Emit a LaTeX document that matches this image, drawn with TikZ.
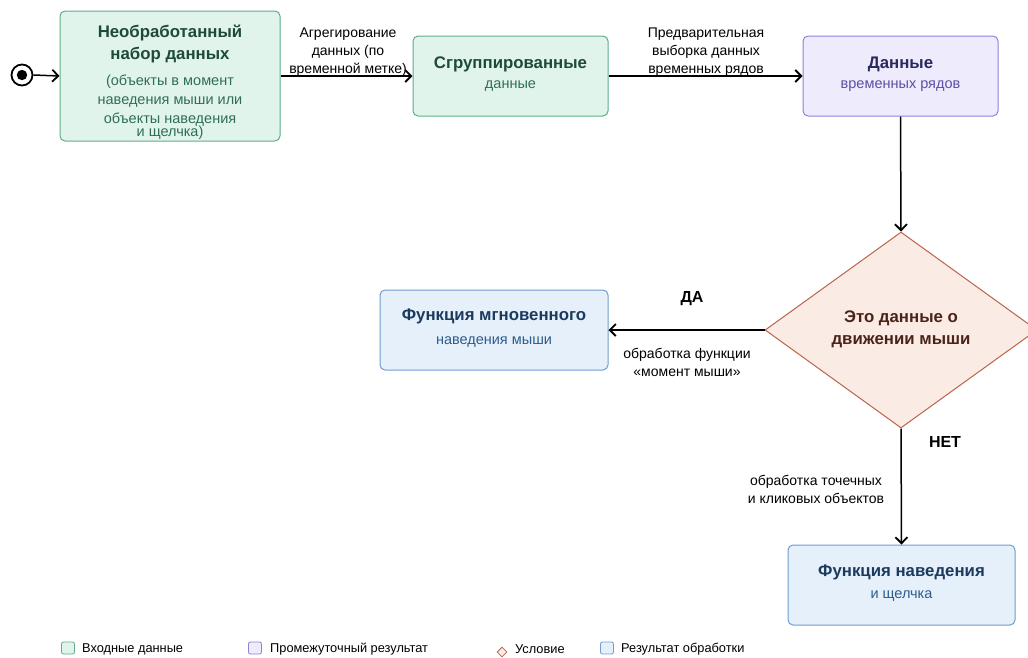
\documentclass[tikz,border=0pt]{standalone}
\usepackage{fontspec}
\setmainfont{Liberation Sans}
\usetikzlibrary{shapes.geometric,arrows.meta}
\definecolor{gfill}{HTML}{E1F4EC}
\definecolor{gdraw}{HTML}{5DAE88}
\definecolor{gtitle}{HTML}{1E4A38}
\definecolor{gtext}{HTML}{2F6E56}
\definecolor{pfill}{HTML}{EEEBFC}
\definecolor{pdraw}{HTML}{8C83D9}
\definecolor{ptitle}{HTML}{2A2960}
\definecolor{ptext}{HTML}{5A50A3}
\definecolor{bfill}{HTML}{E6F0FA}
\definecolor{bdraw}{HTML}{6F9DD0}
\definecolor{btitle}{HTML}{1B3A5E}
\definecolor{btext}{HTML}{2C5C8C}
\definecolor{dfill}{HTML}{FAEBE4}
\definecolor{ddraw}{HTML}{B9654B}
\definecolor{dtitle}{HTML}{4A2418}
\tikzset{
  box/.style={rounded corners=5pt, line width=1pt, inner sep=0pt, align=center},
  gbox/.style={box, fill=gfill, draw=gdraw},
  pbox/.style={box, fill=pfill, draw=pdraw},
  bbox/.style={box, fill=bfill, draw=bdraw},
  flow/.style={line width=1.5pt, draw=black, -{Straight Barb[length=6pt,width=12pt,line width=1.8pt]}},
  lbl/.style={font=\fontsize{14}{18}\selectfont, align=center, inner sep=0pt},
  leg/.style={font=\fontsize{12.8}{14}\selectfont, anchor=west, inner sep=0pt},
  legsq/.style={rounded corners=2pt, line width=0.8pt, minimum width=13pt, minimum height=12pt, inner sep=0pt}
}
\newcommand{\ttl}{\fontsize{16.8}{22}\selectfont\bfseries}
\newcommand{\sub}{\fontsize{14.5}{19}\selectfont}
\begin{document}
\begin{tikzpicture}[x=1pt,y=-1pt]
\useasboundingbox (0,0) rectangle (1028,657);
% start
\node[circle, draw=black, line width=1.8pt, minimum size=21pt, inner sep=0pt] (st) at (22,75) {};
\fill[black] (st.center) circle (5.2pt);
% boxes
\node[gbox, minimum width=220pt, minimum height=130pt] (raw) at (170,76) {};
\node[font=\ttl, text=gtitle, align=center, inner sep=0pt] (rawt) at (170,44) {Необработанный\\набор данных};
\node[font=\sub, text=gtext, align=center, inner sep=0pt] (rawsa) at (170,101) {\fontsize{14.5}{18.5}\selectfont(объекты в момент\\наведения мыши или\\объекты наведения};
\node[font=\sub, text=gtext, inner sep=0pt] (rawsb) at (170,133) {и щелчка)};
\node[gbox, minimum width=195pt, minimum height=80pt] (grp) at (510.5,76) {};
\node[font=\ttl, text=gtitle, inner sep=0pt] at (510.5,64) {Сгруппированные};
\node[font=\sub, text=gtext, inner sep=0pt] at (510.5,86) {данные};
\node[pbox, minimum width=195pt, minimum height=80pt] (ts) at (900.5,76) {};
\node[font=\ttl, text=ptitle, inner sep=0pt] at (900.5,64) {Данные};
\node[font=\sub, text=ptext, inner sep=0pt] at (900.5,86) {временных рядов};
\node[diamond, fill=dfill, draw=ddraw, line width=1pt, minimum width=272pt, minimum height=196pt, inner sep=0pt] (dec) at (901,330) {};
\node[font=\ttl, text=dtitle, align=center, inner sep=0pt] at (901,329) {Это данные о\\движении мыши};
\node[bbox, minimum width=228pt, minimum height=80pt] (inst) at (494,330) {};
\node[font=\ttl, text=btitle, inner sep=0pt] at (494,316) {Функция мгновенного};
\node[font=\sub, text=btext, inner sep=0pt] at (494,342) {наведения мыши};
\node[bbox, minimum width=227pt, minimum height=80pt] (hov) at (901.5,585) {};
\node[font=\ttl, text=btitle, inner sep=0pt] at (901.5,572) {Функция наведения};
\node[font=\sub, text=btext, inner sep=0pt] at (901.5,596) {и щелчка};
% connectors
\draw[flow] (st.east) -- (raw.west);
\draw[flow] (raw.east) -- (grp.west);
\draw[flow] (grp.east) -- (ts.west);
\draw[flow] (ts.south) -- (dec.north);
\draw[flow] (dec.west) -- (inst.east);
\draw[flow] (dec.south) -- (hov.north);
% labels
\node[lbl] at (348,52) {Агрегирование\\данных (по\\временной метке)};
\node[lbl] at (706,52) {Предварительная\\выборка данных\\временных рядов};
\node[font=\fontsize{16}{18}\selectfont\bfseries, inner sep=0pt] at (692,299) {ДА};
\node[lbl] at (687,362) {обработка функции\\«момент мыши»};
\node[font=\fontsize{16}{18}\selectfont\bfseries, inner sep=0pt] at (945,442) {НЕТ};
\node[lbl] at (816,489) {обработка точечных\\и кликовых объектов};
% legend
\node[legsq, fill=gfill, draw=gdraw] (l1) at (68,648) {};
\node[leg] at (82,649) {Входные данные};
\node[legsq, fill=pfill, draw=pdraw] (l2) at (255,648) {};
\node[leg] at (270,649) {Промежуточный результат};
\node[diamond, fill=dfill, draw=ddraw, line width=0.8pt, minimum width=10pt, minimum height=10pt, inner sep=0pt] (l3) at (502,652) {};
\node[leg] at (515,649) {Условие};
\node[legsq, fill=bfill, draw=bdraw] (l4) at (607,648) {};
\node[leg] at (621,649) {Результат обработки};
\end{tikzpicture}
\end{document}
